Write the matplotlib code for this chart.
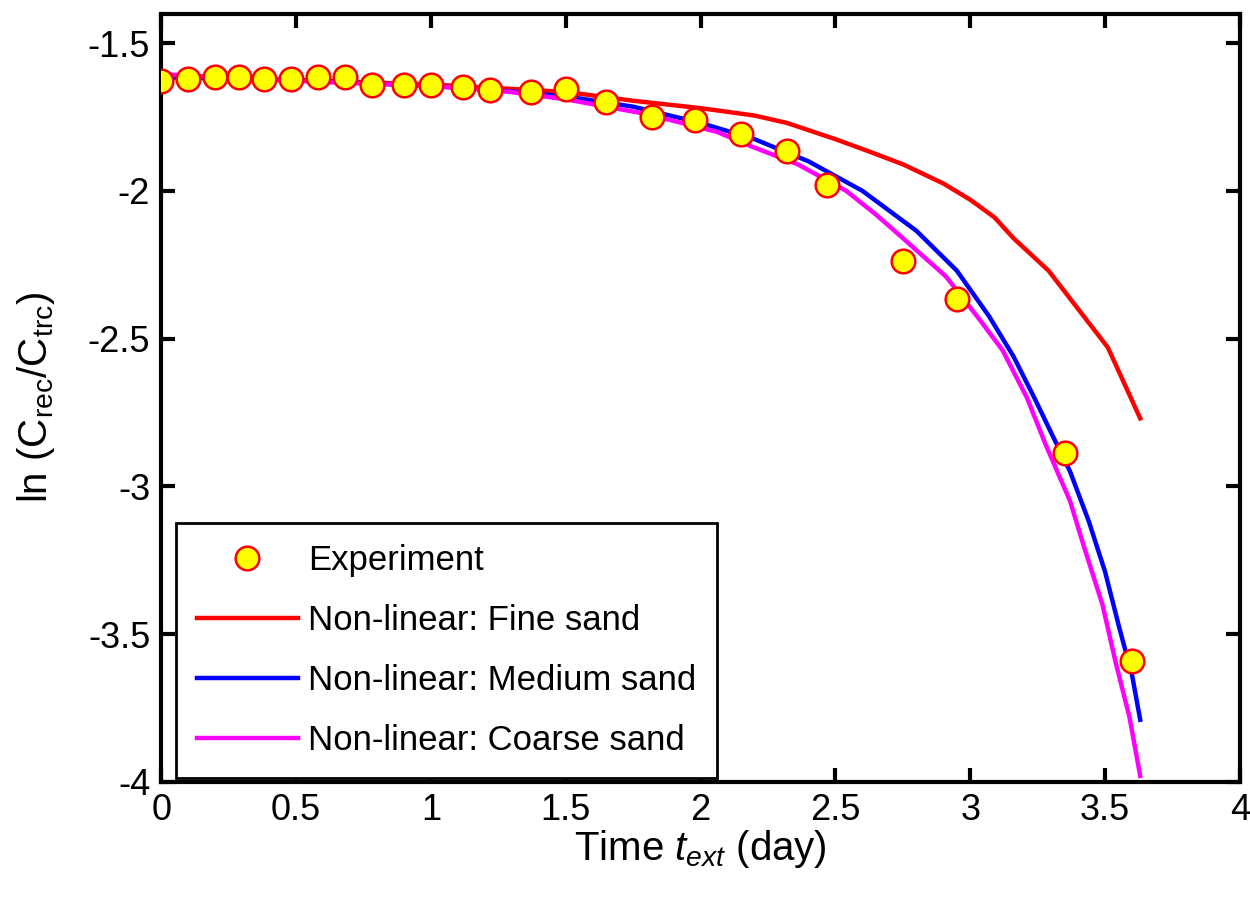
import numpy as np
import matplotlib
matplotlib.use("Agg")
import matplotlib.pyplot as plt
from matplotlib import font_manager

# experiment points
exp_t = [0.0, 0.10, 0.20, 0.29, 0.38, 0.48, 0.58, 0.68, 0.78, 0.90, 1.00, 1.12, 1.22,
         1.37, 1.50, 1.65, 1.82, 1.98, 2.15, 2.32, 2.47, 2.75, 2.95, 3.35, 3.60]
exp_lnc = [-1.628, -1.62, -1.615, -1.615, -1.62, -1.62, -1.615, -1.615, -1.64, -1.64,
           -1.64, -1.65, -1.66, -1.665, -1.655, -1.70, -1.75, -1.76, -1.806, -1.864,
           -1.98, -2.237, -2.365, -2.887, -3.59]

# model curves
fine_t = [0.0, 0.5, 1.0, 1.5, 1.75, 2.0, 2.2, 2.32, 2.5, 2.62, 2.75, 2.9, 3.0, 3.09,
          3.16, 3.29, 3.4, 3.51, 3.63]
fine_lnc = [-1.615, -1.625, -1.64, -1.665, -1.695, -1.72, -1.745, -1.77, -1.825, -1.865,
            -1.91, -1.975, -2.03, -2.09, -2.16, -2.27, -2.40, -2.53, -2.77]

medium_t = [0.0, 0.5, 1.0, 1.25, 1.5, 1.75, 2.0, 2.2, 2.4, 2.6, 2.8, 2.95, 3.07, 3.16,
            3.24, 3.29, 3.37, 3.44, 3.50, 3.55, 3.60, 3.63]
medium_lnc = [-1.615, -1.625, -1.645, -1.66, -1.68, -1.715, -1.77, -1.825, -1.90, -2.0,
              -2.135, -2.27, -2.425, -2.56, -2.705, -2.80, -2.95, -3.12, -3.29, -3.47,
              -3.64, -3.79]

coarse_t = [0.0, 0.5, 1.0, 1.25, 1.5, 1.8, 2.06, 2.19, 2.36, 2.54, 2.65, 2.75, 2.91,
            3.03, 3.12, 3.21, 3.28, 3.37, 3.42, 3.49, 3.54, 3.59, 3.63]
coarse_lnc = [-1.605, -1.628, -1.645, -1.66, -1.69, -1.74, -1.80, -1.85, -1.91, -2.0,
              -2.08, -2.16, -2.29, -2.43, -2.54, -2.70, -2.86, -3.05, -3.20, -3.40,
              -3.60, -3.78, -3.98]

names = {f.name for f in font_manager.fontManager.ttflist}
font = "Liberation Sans Narrow" if "Liberation Sans Narrow" in names else "Liberation Sans"
plt.rcParams['font.family'] = [font, 'DejaVu Sans']
plt.rcParams['mathtext.fontset'] = 'custom'
plt.rcParams['mathtext.rm'] = font
plt.rcParams['mathtext.it'] = font + ':italic'

fig = plt.figure(figsize=(12.5, 9.07), dpi=100)
ax = fig.add_axes([0.129, 0.138, 0.863, 0.847])

ax.plot(exp_t, exp_lnc, 'o', ms=17, mfc='yellow', mec='red', mew=1.8,
        label='Experiment', zorder=3)
ax.plot(fine_t, fine_lnc, color='red', lw=3.2, label='Non-linear: Fine sand')
ax.plot(medium_t, medium_lnc, color='blue', lw=3.2, label='Non-linear: Medium sand')
ax.plot(coarse_t, coarse_lnc, color='magenta', lw=3.2, label='Non-linear: Coarse sand')

ax.set_xlim(0, 4)
ax.set_ylim(-4, -1.4)
ax.set_xticks([0, 0.5, 1, 1.5, 2, 2.5, 3, 3.5, 4])
ax.set_xticklabels(['0', '0.5', '1', '1.5', '2', '2.5', '3', '3.5', '4'])
ax.set_yticks([-4, -3.5, -3, -2.5, -2, -1.5])
ax.set_yticklabels(['-4', '-3.5', '-3', '-2.5', '-2', '-1.5'])
ax.tick_params(direction='in', length=10, width=3, labelsize=26, top=True, right=True,
               pad=8)
for s in ax.spines.values():
    s.set_linewidth(3)

ax.set_xlabel(r'Time $t_{ext}$ (day)', fontsize=29, labelpad=0)
ax.set_ylabel(r'ln (C$_{\rm rec}$/C$_{\rm trc}$)', fontsize=29, labelpad=22)

leg = ax.legend(loc='lower left', bbox_to_anchor=(15 / 1077, 4 / 768),
                borderaxespad=0, fontsize=25, frameon=True, fancybox=False,
                edgecolor='black', handlelength=2.9, handletextpad=0.3,
                labelspacing=0.78, borderpad=0.6)
leg.get_frame().set_linewidth(2)
leg.get_frame().set_alpha(1)

plt.savefig('out.png', dpi=100)
